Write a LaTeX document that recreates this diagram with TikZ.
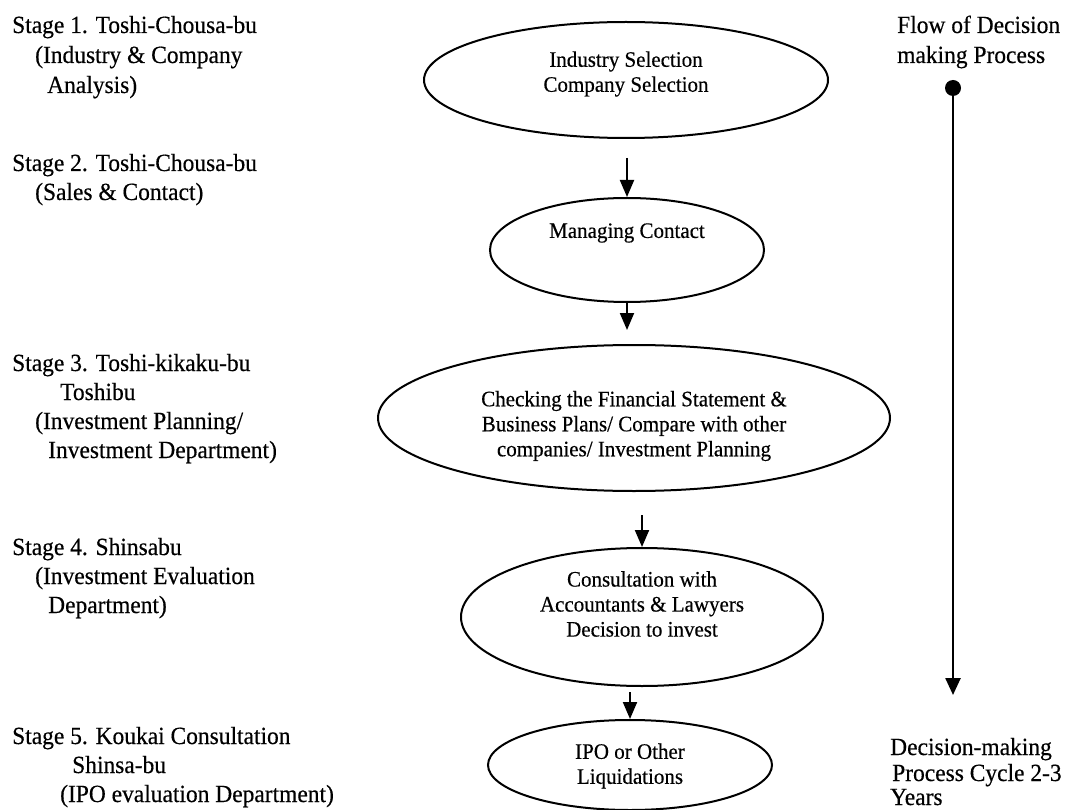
\documentclass[tikz,border=0pt]{standalone}
\usepackage{fontspec}
\setmainfont{Liberation Serif}[FakeStretch=0.95,FakeBold=0.4]
\usetikzlibrary{shapes.geometric,arrows.meta,calc}
\begin{document}
\begin{tikzpicture}[x=1pt,y=-1pt,
  stage/.style={anchor=base west,inner sep=0pt,font=\fontsize{24.7}{29.5}\selectfont},
  oval/.style={draw,ellipse,line width=2pt,inner sep=0pt},
  otext/.style={align=center,inner sep=0pt,font=\fontsize{22.1}{25}\selectfont},
  flow/.style={line width=2pt,-{Triangle[length=17pt,width=14pt]}}]
\useasboundingbox (0,0) rectangle (1065,810);

% stage labels, left column
\node[stage] (s1a) at (12,33)  {Stage 1. Toshi-Chousa-bu};
\node[stage] (s1b) at (35,63)  {(Industry \& Company};
\node[stage] (s1c) at (47,93)  {Analysis)};
\node[stage] (s2a) at (12,171) {Stage 2. Toshi-Chousa-bu};
\node[stage] (s2b) at (35,200) {(Sales \& Contact)};
\node[stage] (s3a) at (12,371) {Stage 3. Toshi-kikaku-bu};
\node[stage] (s3b) at (60,400) {Toshibu};
\node[stage] (s3c) at (35,429) {(Investment Planning/};
\node[stage] (s3d) at (48,458) {Investment Department)};
\node[stage] (s4a) at (12,555) {Stage 4. Shinsabu};
\node[stage] (s4b) at (35,584) {(Investment Evaluation};
\node[stage] (s4c) at (48,613) {Department)};
\node[stage] (s5a) at (12,744) {Stage 5. Koukai Consultation};
\node[stage] (s5b) at (72,773) {Shinsa-bu};
\node[stage] (s5c) at (60,802) {(IPO evaluation Department)};

% process ovals
\node[oval,minimum width=404pt,minimum height=116pt] (e1) at (626,80) {};
\node[otext] (t1) at (626,74) {Industry Selection\\Company Selection};
\node[oval,minimum width=274pt,minimum height=104pt] (e2) at (627,250) {};
\node[otext] (t2) at (627,233) {Managing Contact};
\node[oval,minimum width=512pt,minimum height=146pt] (e3) at (634,418) {};
\node[otext] (t3) at (634,426) {Checking the Financial Statement \&\\Business Plans/ Compare with other\\companies/ Investment Planning};
\node[oval,minimum width=362pt,minimum height=138pt] (e4) at (642,617) {};
\node[otext] (t4) at (642,604) {Consultation with\\Accountants \& Lawyers\\Decision to invest};
\node[oval,minimum width=284pt,minimum height=90pt] (e5) at (630,765) {};
\node[otext] (t5) at (630,766) {IPO or Other\\Liquidations};

% arrows between the ovals
\coordinate (c1) at (627,158);
\coordinate (c2) at (627,330);
\coordinate (c3) at (642,515);
\coordinate (c4) at (630,692);
\draw[flow] (c1) -- (e2.north);
\draw[flow] (e2.south) -- (c2);
\draw[flow] (c3) -- (e4.north);
\draw[flow] (c4) -- (e5.north);

% time line on the right
\node[stage] (f1) at (897,33) {Flow of Decision};
\node[stage] (f2) at (897,63) {making Process};
\node[circle,fill,inner sep=0pt,minimum size=16pt] (dot) at (953,88) {};
\coordinate (tip) at (953,695);
\draw[line width=2.5pt,-{Triangle[length=17pt,width=15pt]}] (dot) -- (tip);
\node[stage] (y1) at (890,755) {Decision-making};
\node[stage] (y2) at (892,781) {Process Cycle 2-3};
\node[stage] (y3) at (890,805) {Years};
\end{tikzpicture}
\end{document}
